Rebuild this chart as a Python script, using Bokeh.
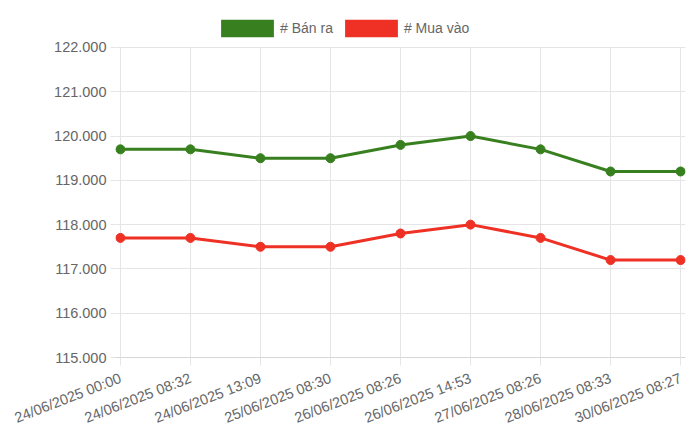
from bokeh.plotting import figure
from bokeh.models import Range1d, FixedTicker, Legend, LegendItem
from bokeh.embed import file_html
from bokeh.resources import INLINE

labels = ["24/06/2025 00:00", "24/06/2025 08:32", "24/06/2025 13:09",
          "25/06/2025 08:30", "26/06/2025 08:26", "26/06/2025 14:53",
          "27/06/2025 08:26", "28/06/2025 08:33", "30/06/2025 08:27"]
ban_ra = [119700, 119700, 119500, 119500, 119800, 120000, 119700, 119200, 119200]
mua_vao = [117700, 117700, 117500, 117500, 117800, 118000, 117700, 117200, 117200]
y_ticks = [115000, 116000, 117000, 118000, 119000, 120000, 121000, 122000]

green = "#38801f"
red = "#ee3124"
grid = "#e5e5e5"
font = "Liberation Sans"

xs = list(range(len(labels)))
y_lo, y_hi = y_ticks[0], y_ticks[-1]

# frame runs up to the top edge so the legend can sit inside it;
# grid and axis are bounded to the real value range
p = figure(width=692, height=436, output_backend="svg", toolbar_location=None,
           x_range=Range1d(-0.07, len(labels) - 1 + 0.07),
           y_range=Range1d(y_lo, 123061),
           min_border_left=115, min_border_right=7, min_border_top=0,
           min_border_bottom=79)
p.outline_line_color = None
p.background_fill_color = "white"
p.border_fill_color = "white"

p.xaxis.ticker = FixedTicker(ticks=xs)
p.xaxis.major_label_overrides = {i: s for i, s in enumerate(labels)}
p.xaxis.major_label_orientation = 0.37
p.yaxis.ticker = FixedTicker(ticks=y_ticks)
p.yaxis.bounds = (y_lo, y_hi)
p.yaxis.major_label_overrides = {v: "{:,}".format(v).replace(",", ".") for v in y_ticks}

for ax in (p.xaxis, p.yaxis):
    ax.major_label_text_font = font
    ax.major_label_text_font_size = "14.5px"
    ax.major_label_text_color = "#666666"
    ax.major_tick_line_color = grid
    ax.major_tick_in = 0
    ax.minor_tick_line_color = None
p.xaxis.axis_line_color = "#d6d6d6"
p.yaxis.axis_line_color = None
p.xaxis.major_tick_out = 8
p.xaxis.major_label_standoff = 12
p.yaxis.major_tick_out = 5
p.yaxis.major_label_standoff = 4

p.ygrid.grid_line_color = grid
xg = p.xgrid[0]
if "cross_bounds" in xg.properties():
    xg.ticker = FixedTicker(ticks=xs)
    xg.cross_bounds = (y_lo, y_hi)
    xg.grid_line_color = grid
else:
    xg.visible = False
    p.segment(x0=xs, y0=[y_lo] * len(xs), x1=xs, y1=[y_hi] * len(xs),
              line_color=grid, line_width=1)

p.line(xs, ban_ra, line_color=green, line_width=3)
p.scatter(xs, ban_ra, size=9, fill_color=green, line_color=green)
p.line(xs, mua_vao, line_color=red, line_width=3)
p.scatter(xs, mua_vao, size=9, fill_color=red, line_color=red)

# hidden areas, only used for the legend boxes
b1 = p.varea(x=xs, y1=ban_ra, y2=ban_ra, fill_color=green, visible=False)
b2 = p.varea(x=xs, y1=mua_vao, y2=mua_vao, fill_color=red, visible=False)

legend = Legend(items=[LegendItem(label="# Bán ra", renderers=[b1]),
                       LegendItem(label="# Mua vào", renderers=[b2])],
                orientation="horizontal", location=(99, 318),
                glyph_width=66, glyph_height=22, label_standoff=0, spacing=5,
                padding=0, margin=0, border_line_color=None,
                background_fill_alpha=0, inactive_fill_alpha=0,
                label_text_font=font, label_text_font_size="14px",
                label_text_color="#666666", label_height=22)
p.add_layout(legend, "center")

open("out.html", "w").write(file_html(p, INLINE))
